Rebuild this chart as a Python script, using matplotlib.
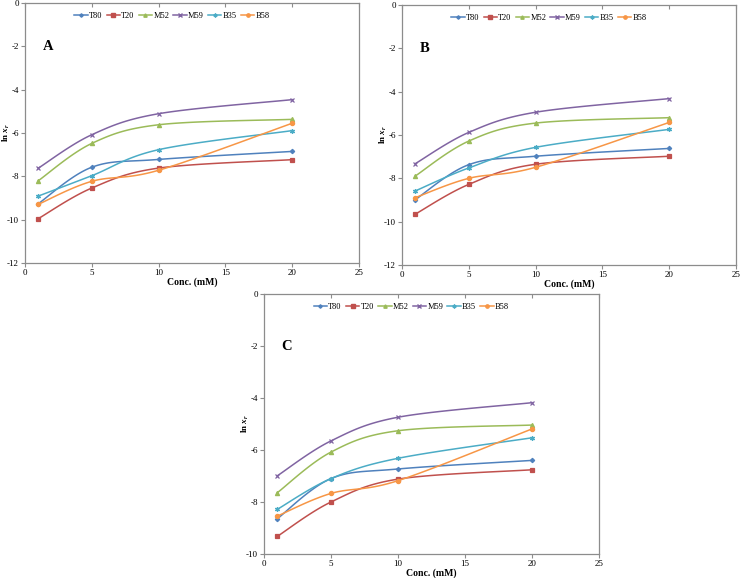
import numpy as np
import matplotlib
matplotlib.use('Agg')
import matplotlib.pyplot as plt
from matplotlib.lines import Line2D

plt.rcParams['font.family'] = 'Liberation Serif'
plt.rcParams['axes.unicode_minus'] = False
plt.rcParams['mathtext.fontset'] = 'custom'
plt.rcParams['mathtext.rm'] = 'Liberation Serif:bold'
plt.rcParams['mathtext.it'] = 'Liberation Serif:italic:bold'

conc = [1, 5, 10, 20]
names = ['T80', 'T20', 'M52', 'M59', 'B35', 'B58']

panel_A = {
    'T80': [-9.26, -7.58, -7.22, -6.85],
    'T20': [-9.95, -8.54, -7.62, -7.23],
    'M52': [-8.20, -6.48, -5.62, -5.37],
    'M59': [-7.62, -6.08, -5.11, -4.46],
    'B35': [-8.91, -7.97, -6.77, -5.89],
    'B58': [-9.29, -8.23, -7.72, -5.55],
}
panel_B = {
    'T80': [-8.98, -7.37, -6.98, -6.62],
    'T20': [-9.65, -8.28, -7.35, -6.98],
    'M52': [-7.89, -6.28, -5.45, -5.20],
    'M59': [-7.32, -5.88, -4.95, -4.32],
    'B35': [-8.58, -7.52, -6.57, -5.74],
    'B58': [-8.89, -8.00, -7.49, -5.42],
}
panel_C = {
    'T80': [-8.64, -7.10, -6.73, -6.40],
    'T20': [-9.32, -8.00, -7.12, -6.76],
    'M52': [-7.64, -6.08, -5.26, -5.04],
    'M59': [-6.99, -5.65, -4.74, -4.18],
    'B35': [-8.28, -7.10, -6.32, -5.53],
    'B58': [-8.54, -7.67, -7.18, -5.19],
}

colors = {'T80': '#4F81BD', 'T20': '#C0504D', 'M52': '#9BBB59',
          'M59': '#8064A2', 'B35': '#4BACC6', 'B58': '#F79646'}
markers = {'T80': ('D', 2.2), 'T20': ('s', 3), 'M52': ('^', 3),
           'M59': ('x', 3), 'B35': ((6, 2, 0), 3.5), 'B58': ('o', 3)}


def smooth(x, y, n=40):
    # Excel-like smoothed line (cubic Bezier through the points)
    pts = np.column_stack([x, y]).astype(float)
    out = [pts[0]]
    t = np.linspace(0, 1, n)[1:, None]
    for i in range(len(pts) - 1):
        p0 = pts[max(i - 1, 0)]
        p1 = pts[i]
        p2 = pts[i + 1]
        p3 = pts[min(i + 2, len(pts) - 1)]
        c1 = p1 + (p2 - p0) / 6
        c2 = p2 - (p3 - p1) / 6
        seg = (1 - t)**3 * p1 + 3 * (1 - t)**2 * t * c1 + 3 * (1 - t) * t**2 * c2 + t**3 * p2
        out.extend(seg)
    out = np.array(out)
    return out[:, 0], out[:, 1]


def draw(ax, data, letter, ymin):
    for name in names:
        sx, sy = smooth(conc, data[name])
        ax.plot(sx, sy, color=colors[name], lw=1.1)
        m, ms = markers[name]
        ax.plot(conc, data[name], ls='none', marker=m, ms=ms, color=colors[name],
                mec=colors[name], mew=0.9)
    ax.set_xlim(0, 25)
    ax.set_ylim(ymin, 0)
    ax.set_xticks([0, 5, 10, 15, 20, 25])
    ax.set_yticks(np.arange(ymin, 1, 2))
    for s in ax.spines.values():
        s.set_color('#8c8c8c')
        s.set_linewidth(0.9)
    ax.tick_params(labelsize=6.5, length=3, color='#8c8c8c', width=0.8, pad=1.5)
    top = ax.secondary_xaxis('top')
    top.set_xticks([0, 5, 10, 15, 20, 25])
    top.tick_params(direction='in', length=3, color='#8c8c8c', labeltop=False)
    top.spines['top'].set_visible(False)
    ax.set_xlabel('Conc. (mM)', fontsize=7, fontweight='bold', va='center')
    ax.xaxis.set_label_coords(0.5, -0.075)
    ax.set_ylabel(r'ln $x_r$', fontsize=6.5, fontweight='bold', va='center')
    ax.yaxis.set_label_coords(-0.057, 0.5)
    ax.text(1.3, -2, letter, fontsize=10.5, fontweight='bold', va='center')
    handles = [Line2D([], [], color=colors[n], lw=1.1, marker=markers[n][0],
                      ms=markers[n][1] * 0.8, mec=colors[n]) for n in names]
    ax.legend(handles, names, ncol=6, loc='upper center', bbox_to_anchor=(0.44, 0.985),
              frameon=False, fontsize=6, handlelength=1.6, handletextpad=0.15,
              columnspacing=0.5, borderaxespad=0.2)


fig = plt.figure(figsize=(7.4, 5.78), dpi=100)
ax_a = fig.add_axes([25 / 740, 1 - 263 / 578, 334 / 740, 260 / 578])
ax_b = fig.add_axes([402 / 740, 1 - 265 / 578, 334 / 740, 260 / 578])
ax_c = fig.add_axes([264 / 740, 1 - 554 / 578, 335 / 740, 260 / 578])

draw(ax_a, panel_A, 'A', -12)
draw(ax_b, panel_B, 'B', -12)
draw(ax_c, panel_C, 'C', -10)

fig.savefig('out.png', dpi=100)
